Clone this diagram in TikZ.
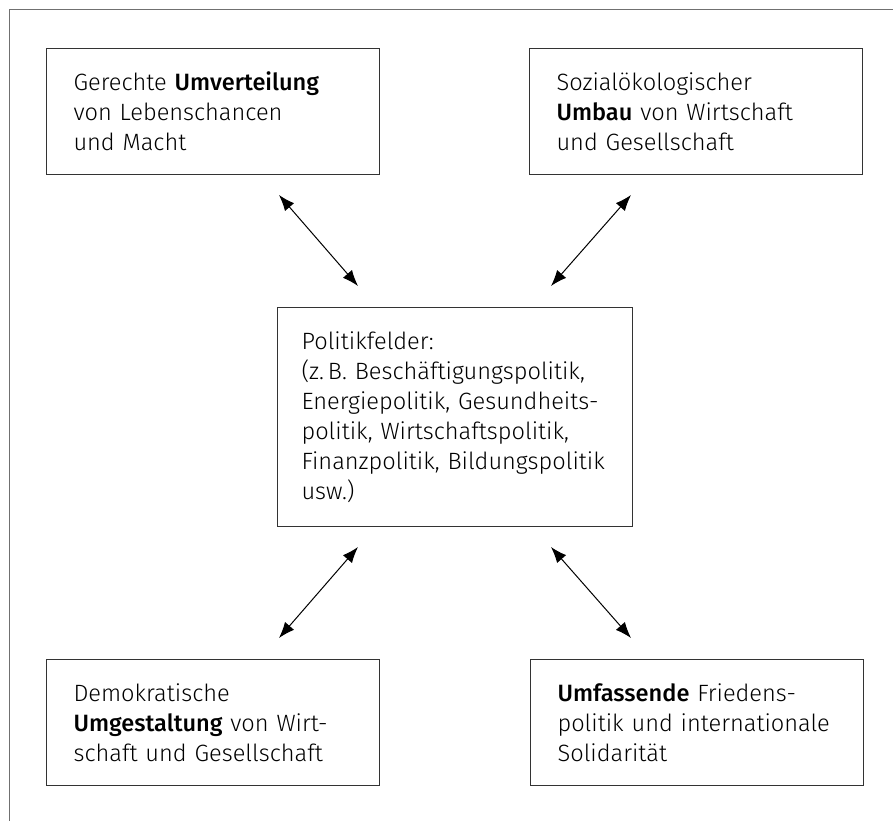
\documentclass[tikz,border=0pt]{standalone}
\usepackage{fontspec}
\setmainfont{Fira Sans Light}[BoldFont={Fira Sans Medium}]
\usetikzlibrary{arrows.meta}
\definecolor{framegray}{HTML}{707070}
\definecolor{boxline}{HTML}{333333}
\begin{document}
\begin{tikzpicture}[x=1pt,y=-1pt,
  txt/.style={font=\fontsize{23.6}{30}\selectfont},
  box/.style={draw=boxline, line width=1.1pt, anchor=north west, align=left, txt, inner ysep=0pt},
  smallbox/.style={box, inner xsep=27pt, text width=279pt, minimum height=126pt},
  bigbox/.style={box, inner xsep=24pt, text width=307pt, minimum height=219pt},
  link/.style={{Latex[length=16pt,width=12pt]}-{Latex[length=16pt,width=12pt]}, line width=1pt}]
\useasboundingbox (0,0) rectangle (893,821);
\draw[framegray, line width=1.8pt] (893,9.5) -| (9.5,821);
\node[smallbox] (tl) at (46,48) {Gerechte \textbf{Umverteilung}\\von Lebenschancen\\und Macht};
\node[smallbox] (tr) at (529,48) {Sozialökologischer\\\textbf{Umbau} von Wirtschaft\\und Gesellschaft};
\node[bigbox] (c) at (277,307) {Politikfelder:\\(z.\,B. Beschäftigungspolitik,\\Energiepolitik, Gesundheits-\\politik, Wirtschaftspolitik,\\Finanzpolitik, Bildungspolitik\\usw.)};
\node[smallbox] (bl) at (46,659) {Demokratische\\\textbf{Umgestaltung} von Wirt-\\schaft und Gesellschaft};
\node[smallbox] (br) at (530,659) {\textbf{Umfassende} Friedens-\\politik und internationale\\Solidarität};
\coordinate (tl1) at (279,195);
\coordinate (tl2) at (358,286);
\coordinate (tr1) at (631,195);
\coordinate (tr2) at (551,286);
\coordinate (bl1) at (358,547);
\coordinate (bl2) at (279,638);
\coordinate (br1) at (551,547);
\coordinate (br2) at (631,638);
\draw[link] (tl1) -- (tl2);
\draw[link] (tr1) -- (tr2);
\draw[link] (bl1) -- (bl2);
\draw[link] (br1) -- (br2);
\end{tikzpicture}
\end{document}
